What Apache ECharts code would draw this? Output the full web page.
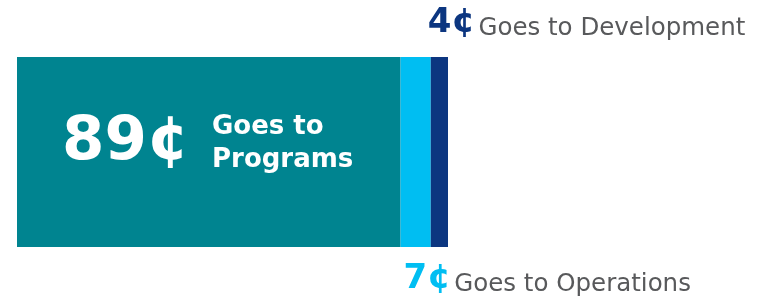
<!DOCTYPE html>
<html>
<head>
<meta charset="utf-8">
<script src="https://cdn.jsdelivr.net/npm/echarts@6/dist/echarts.min.js"></script>
<style>
  html, body { margin: 0; padding: 0; background: #fff; }
  #main { width: 769px; height: 300px; }
</style>
</head>
<body>
<div id="main"></div>
<script>
// one dollar split into three parts
const categories = ['Dollar'];
const segmentNames = ['Programs', 'Operations', 'Development'];
const segmentCents = [89, 7, 4];
const segmentColors = ['#008490', '#00bef2', '#0c3680'];

const FONT = '"DejaVu Sans", sans-serif';
const GREY = '#58595b';

// label for each segment
const labels = [
  {
    show: true,
    position: [45, '50%'],
    offset: [0, -8],
    align: 'left',
    verticalAlign: 'middle',
    formatter: '{n|' + segmentCents[0] + '¢}{g|Goes to}\n{pad|}{g|' + segmentNames[0] + '}',
    rich: {
      n: { fontFamily: FONT, fontWeight: 'bold', fontSize: 61, color: '#fff', width: 150, lineHeight: 33, padding: [32, 0, 0, 0] },
      pad: { width: 150, lineHeight: 33 },
      g: { fontFamily: FONT, fontWeight: 'bold', fontSize: 26, color: '#fff', lineHeight: 33 }
    }
  },
  {
    show: true,
    position: ['0%', '100%'],
    offset: [3, 32],
    align: 'left',
    verticalAlign: 'middle',
    formatter: '{v|' + segmentCents[1] + '¢} {t|Goes to ' + segmentNames[1] + '}',
    rich: {
      v: { fontFamily: FONT, fontWeight: 'bold', fontSize: 34, color: segmentColors[1], lineHeight: 36 },
      t: { fontFamily: FONT, fontSize: 24.5, color: GREY, lineHeight: 27, verticalAlign: 'bottom' }
    }
  },
  {
    show: true,
    position: ['0%', '0%'],
    offset: [-3, -34],
    align: 'left',
    verticalAlign: 'middle',
    formatter: '{v|' + segmentCents[2] + '¢} {t|Goes to ' + segmentNames[2] + '}',
    rich: {
      v: { fontFamily: FONT, fontWeight: 'bold', fontSize: 34, color: segmentColors[2], lineHeight: 36 },
      t: { fontFamily: FONT, fontSize: 24.5, color: GREY, lineHeight: 27, verticalAlign: 'bottom' }
    }
  }
];

const chart = echarts.init(document.getElementById('main'), null, { renderer: 'canvas' });

chart.setOption({
  animation: false,
  grid: { left: 17, right: 321, top: 57, bottom: 53 },
  xAxis: { type: 'value', min: 0, max: 100, show: false },
  yAxis: { type: 'category', data: categories, show: false },
  series: segmentNames.map((name, i) => ({
    name: name,
    type: 'bar',
    stack: 'dollar',
    barWidth: '100%',
    itemStyle: { color: segmentColors[i] },
    label: labels[i],
    data: [segmentCents[i]]
  }))
});
</script>
</body>
</html>
